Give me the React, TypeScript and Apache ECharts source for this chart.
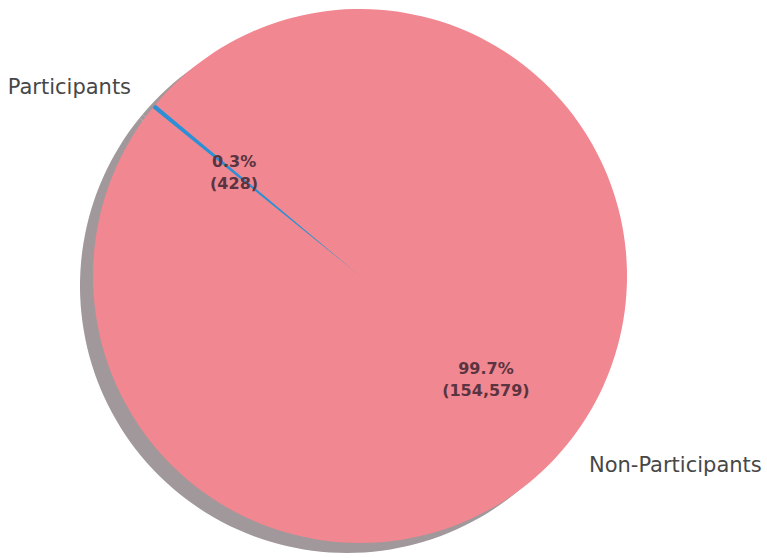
import React, { useEffect, useRef } from "react";
import * as echarts from "echarts";

const categories = ["Participants", "Non-Participants"];
const values = [428, 154579];
const sliceColors = ["#2f8fd6", "#f08791"];
const shadowColor = "#a0989a";

const CENTER_X = 360;
const CENTER_Y = 276;
const RADIUS = 267;
const START_ANGLE = 140;

export default function App() {
  const ref = useRef<HTMLDivElement>(null);

  useEffect(() => {
    if (!ref.current) return;
    const chart = echarts.init(ref.current, null, { renderer: "svg" });
    const total = values.reduce((a, b) => a + b, 0);

    const baseData = categories.map((name, i) => ({ name, value: values[i] }));
    const common = {
      type: "pie" as const,
      startAngle: START_ANGLE,
      clockwise: false,
      silent: true,
      emphasis: { disabled: true },
      labelLine: { show: false },
    };

    chart.setOption({
      animation: false,
      backgroundColor: "#ffffff",
      series: [
        {
          ...common,
          name: "shadow",
          center: [CENTER_X - 13, CENTER_Y + 10],
          radius: RADIUS,
          itemStyle: { color: shadowColor, borderWidth: 0 },
          label: { show: false },
          data: baseData,
        },
        {
          ...common,
          name: "main",
          center: [CENTER_X, CENTER_Y],
          radius: RADIUS,
          itemStyle: { borderWidth: 0 },
          label: { show: false },
          data: baseData.map((d, i) => ({
            ...d,
            itemStyle: { color: sliceColors[i] },
          })),
        },
        {
          ...common,
          name: "pct",
          center: [CENTER_X, CENTER_Y],
          radius: RADIUS * 1.2,
          itemStyle: { color: "rgba(0,0,0,0)", borderWidth: 0 },
          label: {
            show: true,
            position: "inner",
            fontFamily: "DejaVu Sans",
            fontSize: 16,
            fontWeight: "bold",
            color: "#5a3440",
            lineHeight: 22,
            align: "center",
            formatter: (p: any) =>
              ((p.value / total) * 100).toFixed(1) +
              "%\n(" +
              Number(p.value).toLocaleString("en-US") +
              ")",
          },
          data: baseData,
        },
        {
          ...common,
          name: "names",
          center: [CENTER_X, CENTER_Y],
          radius: RADIUS * 2.2,
          itemStyle: { color: "rgba(0,0,0,0)", borderWidth: 0 },
          label: {
            show: true,
            position: "inner",
            fontFamily: "DejaVu Sans",
            fontSize: 21,
            color: "#474747",
            formatter: "{b}",
          },
          labelLayout: (p: any) => ({
            align: p.dataIndex === 0 ? "right" : "left",
          }),
          data: baseData,
        },
      ],
    });

    return () => chart.dispose();
  }, []);

  return (
    <div
      ref={ref}
      style={{ position: "fixed", left: 0, top: 0, width: 767, height: 558 }}
    />
  );
}
